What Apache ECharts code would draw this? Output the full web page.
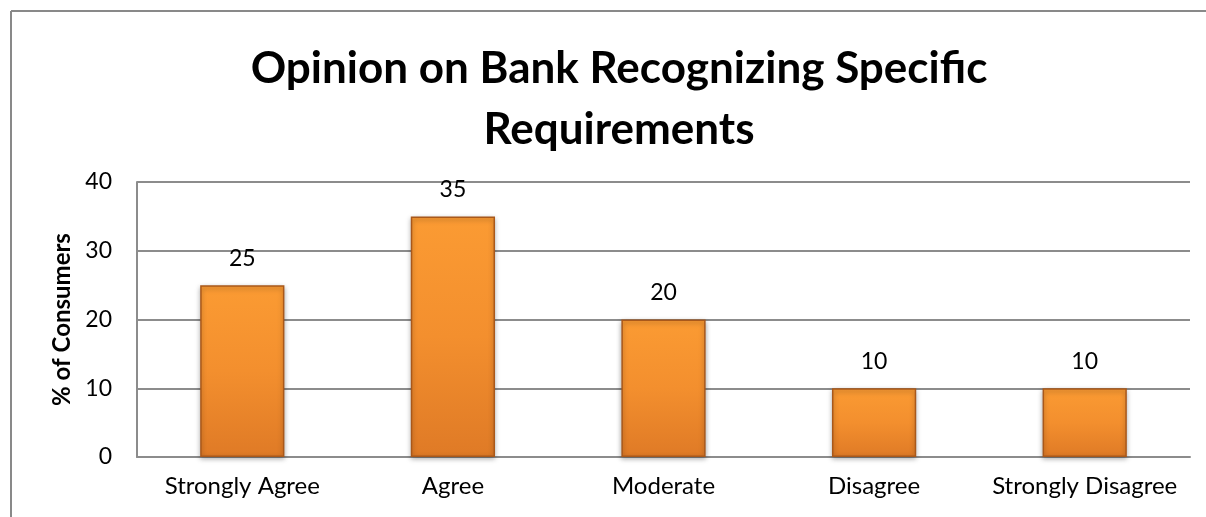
<!DOCTYPE html>
<html>
<head>
<meta charset="utf-8">
<script src="https://cdn.jsdelivr.net/npm/echarts@6/dist/echarts.min.js"></script>
<style>
  html, body { margin: 0; padding: 0; background: #fff; }
  #chart { width: 1206px; height: 517px; }
</style>
</head>
<body>
<div id="chart"></div>
<script>
const categories = ['Strongly Agree', 'Agree', 'Moderate', 'Disagree', 'Strongly Disagree'];
const consumerShare = [25, 35, 20, 10, 10];
const yTicks = { min: 0, max: 40, interval: 10 };
const titleLines = ['Opinion on Bank Recognizing Specific', 'Requirements'];
const yAxisTitle = '% of Consumers';

const FONT = 'Lato, "Open Sans", sans-serif';

const chart = echarts.init(document.getElementById('chart'));

const barFill = new echarts.graphic.LinearGradient(0, 0, 0, 1, [
  { offset: 0, color: '#FB9B33' },
  { offset: 0.5, color: '#F38F2E' },
  { offset: 1, color: '#DF7A26' }
]);

const frameStyle = { stroke: '#898989', lineWidth: 2 };

chart.setOption({
  animation: false,
  backgroundColor: '#ffffff',
  title: {
    text: titleLines.join('\n'),
    left: 614,
    textAlign: 'center',
    top: 33,
    textStyle: {
      fontFamily: FONT,
      fontWeight: 'bold',
      fontSize: 44,
      lineHeight: 61,
      color: '#000'
    }
  },
  graphic: [
    { type: 'line', shape: { x1: 11, y1: 11, x2: 1206, y2: 11 }, style: frameStyle, silent: true },
    { type: 'line', shape: { x1: 11, y1: 11, x2: 11, y2: 517 }, style: frameStyle, silent: true }
  ],
  grid: { left: 137, right: 16, top: 182, bottom: 60 },
  xAxis: {
    type: 'category',
    data: categories,
    axisLine: { show: true, lineStyle: { color: '#8c8c8c', width: 2 } },
    axisTick: { show: false },
    axisLabel: { interval: 0, fontFamily: FONT, fontSize: 24, color: '#000', margin: 17 }
  },
  yAxis: {
    type: 'value',
    min: yTicks.min,
    max: yTicks.max,
    interval: yTicks.interval,
    name: yAxisTitle,
    nameLocation: 'middle',
    nameRotate: 90,
    nameGap: 63,
    nameTextStyle: { fontFamily: FONT, fontWeight: 'bold', fontSize: 24, color: '#000' },
    axisLine: { show: true, lineStyle: { color: '#8c8c8c', width: 2 } },
    axisTick: { show: false },
    axisLabel: { fontFamily: FONT, fontSize: 23, color: '#000', margin: 25 },
    splitLine: { show: true, lineStyle: { color: '#8c8c8c', width: 2 } }
  },
  series: [{
    type: 'bar',
    data: consumerShare,
    barWidth: '40%',
    itemStyle: {
      color: barFill,
      borderColor: '#A9581A',
      borderWidth: 1.5,
      shadowColor: 'rgba(0,0,0,0.35)',
      shadowBlur: 5,
      shadowOffsetY: 2
    },
    label: {
      show: true,
      position: 'top',
      distance: 15,
      fontFamily: FONT,
      fontSize: 23,
      color: '#000'
    }
  }]
});
</script>
</body>
</html>
